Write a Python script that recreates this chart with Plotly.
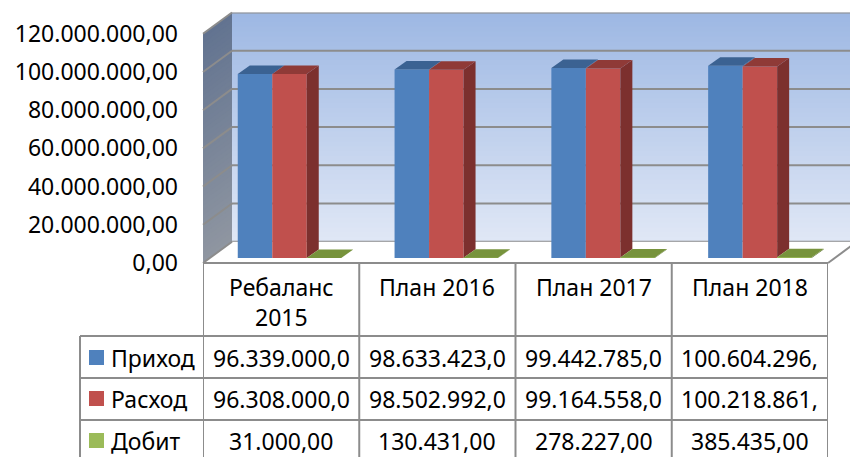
import plotly.graph_objects as go

# ---------------- data ----------------
categories = ["Ребаланс 2015", "План 2016", "План 2017", "План 2018"]
header_labels = ["Ребаланс<br>2015", "План 2016", "План 2017", "План 2018"]
series_names = ["Приход", "Расход", "Добит"]
prihod = [96339000.0, 98633423.0, 99442785.0, 100604296.0]
rashod = [96308000.0, 98502992.0, 99164558.0, 100218861.0]
dobit = [31000.0, 130431.0, 278227.0, 385435.0]
y_ticks = [0, 20e6, 40e6, 60e6, 80e6, 100e6, 120e6]
y_max = 120e6

series_values = [prihod, rashod, dobit]
front_colors = ["#4f81bd", "#c0504d", "#9bbb59"]
top_colors = ["#3b6292", "#8f3a37", "#77933c"]
side_colors = ["#3a5f8b", "#7c302e", "#5f7630"]

FONT = "Noto Sans"
FS = 23


def eu(v):
    s = f"{v:,.2f}"
    return s.replace(",", "X").replace(".", ",").replace("X", ".")


CELL_CHARS = 12  # cell width clips the text in the original

# ---------------- geometry (pixels) ----------------
W, H = 850, 457


def fx(x):
    return x / W


def fy(y):
    return 1 - y / H


FRONT_L, FRONT_R, FRONT_B, FRONT_T = 203, 828, 263, 33.8
BACK_L, BACK_B, BACK_T = 232, 241.7, 12.5
BAR_L, BAR_R, BAR_B, BAR_T = 211.1, 838.3, 258, 28.8
DX_PX, DY_PX = 12, 8.5

n_cat = len(categories)
bargap = 0.34
bw = (1 - bargap) / len(series_values)
dx = DX_PX / ((BAR_R - BAR_L) / n_cat)
dy = DY_PX / ((BAR_B - BAR_T) / y_max)


def y_front(v):
    return FRONT_B - v / y_max * (FRONT_B - FRONT_T)


def y_back(v):
    return BACK_B - v / y_max * (BACK_B - BACK_T)


def lerp_color(c0, c1, t):
    a = [int(c0[i:i + 2], 16) for i in (1, 3, 5)]
    b = [int(c1[i:i + 2], 16) for i in (1, 3, 5)]
    return "rgb(%d,%d,%d)" % tuple(round(a[k] + (b[k] - a[k]) * t) for k in range(3))


fig = go.Figure()

for j, vals in enumerate(series_values):
    fig.add_trace(go.Bar(
        x=list(range(n_cat)), y=vals, name=series_names[j],
        xaxis="x3", yaxis="y3",
        marker=dict(color=front_colors[j], line=dict(width=0)),
        showlegend=False,
        hovertext=[f"{series_names[j]}: {eu(v)}" for v in vals], hoverinfo="text",
    ))

shapes = []
GRID = "#8c8c8c"

# back wall gradient (bands overlap slightly to avoid seams)
NB = 48
ov = y_max / NB * 0.6
for k in range(NB):
    t = (k + 0.5) / NB
    shapes.append(dict(type="rect", xref="x domain", yref="y", x0=0, x1=1,
                       y0=y_max * k / NB, y1=min(y_max, y_max * (k + 1) / NB + ov),
                       fillcolor=lerp_color("#e0e8f6", "#9db7e3", t),
                       line=dict(width=0), layer="below"))
# side wall gradient
for k in range(NB):
    t = (k + 0.5) / NB
    v0, v1 = y_max * k / NB, min(y_max, y_max * (k + 1) / NB + ov)
    path = "M %f,%f L %f,%f L %f,%f L %f,%f Z" % (
        fx(FRONT_L), fy(y_front(v0)), fx(BACK_L), fy(y_back(v0)),
        fx(BACK_L), fy(y_back(v1)), fx(FRONT_L), fy(y_front(v1)))
    shapes.append(dict(type="path", xref="paper", yref="paper", path=path,
                       fillcolor=lerp_color("#8f96a1", "#627390", t),
                       line=dict(width=0), layer="below"))
# gridlines (back wall + side wall)
for v in y_ticks:
    shapes.append(dict(type="line", xref="x domain", yref="y", x0=0, x1=1, y0=v, y1=v,
                       line=dict(color=GRID, width=2), layer="below"))
    shapes.append(dict(type="line", xref="paper", yref="paper",
                       x0=fx(FRONT_L), y0=fy(y_front(v)), x1=fx(BACK_L), y1=fy(y_back(v)),
                       line=dict(color=GRID, width=2), layer="below"))
# floor edges
shapes.append(dict(type="line", xref="paper", yref="paper",
                   x0=fx(FRONT_L), x1=fx(FRONT_R), y0=fy(FRONT_B), y1=fy(FRONT_B),
                   line=dict(color=GRID, width=2)))
shapes.append(dict(type="line", xref="paper", yref="paper",
                   x0=fx(FRONT_R), y0=fy(FRONT_B), x1=fx(FRONT_R + 29), y1=fy(FRONT_B - 21.3),
                   line=dict(color=GRID, width=2)))

# 3D faces of bars
for i in range(n_cat):
    for j, vals in enumerate(series_values):
        v = vals[i]
        xl = i - (1 - bargap) / 2 + j * bw
        xr = xl + bw
        base = series_values[j + 1][i] if j + 1 < len(series_values) else 0
        if v > base:
            side = "M %f,%f L %f,%f L %f,%f L %f,%f Z" % (
                xr, base, xr + dx, base + dy, xr + dx, v + dy, xr, v)
            shapes.append(dict(type="path", xref="x3", yref="y3", path=side,
                               fillcolor=side_colors[j], line=dict(width=0)))
        top = "M %f,%f L %f,%f L %f,%f L %f,%f Z" % (
            xl, v, xr, v, xr + dx, v + dy, xl + dx, v + dy)
        shapes.append(dict(type="path", xref="x3", yref="y3", path=top,
                           fillcolor=top_colors[j], line=dict(width=0)))

# ---------------- data table ----------------
TBL_L = 80
ROW_LINES = [336, 378, 420]
ROW_CENTERS = [357.5, 398.5, 440.5]
for c in range(n_cat + 1):
    shapes.append(dict(type="line", xref="x2", yref="paper", x0=c - 0.5, x1=c - 0.5,
                       y0=fy(FRONT_B), y1=0, line=dict(color=GRID, width=2)))
shapes.append(dict(type="line", xref="paper", yref="paper", x0=fx(TBL_L), x1=fx(TBL_L),
                   y0=fy(ROW_LINES[0]), y1=0, line=dict(color=GRID, width=2)))
for yl in ROW_LINES:
    shapes.append(dict(type="line", xref="paper", yref="paper", x0=fx(TBL_L), x1=fx(FRONT_R),
                       y0=fy(yl), y1=fy(yl), line=dict(color=GRID, width=2)))

annotations = []
for i, lab in enumerate(header_labels):
    annotations.append(dict(xref="x2", yref="paper", x=i, y=fy(269), text=lab,
                            showarrow=False, xanchor="center", yanchor="top",
                            font=dict(family=FONT, size=FS, color="black")))
for r, name in enumerate(series_names):
    yc = ROW_CENTERS[r]
    shapes.append(dict(type="rect", xref="paper", yref="paper",
                       x0=fx(89), x1=fx(104), y0=fy(yc + 7.5), y1=fy(yc - 7.5),
                       fillcolor=front_colors[r], line=dict(width=0)))
    annotations.append(dict(xref="paper", yref="paper", x=fx(109), y=fy(yc), text=name,
                            showarrow=False, xanchor="left", yanchor="middle",
                            font=dict(family=FONT, size=FS, color="black")))
    for i, v in enumerate(series_values[r]):
        annotations.append(dict(xref="x2", yref="paper", x=i, y=fy(yc),
                                text=eu(v)[:CELL_CHARS],
                                showarrow=False, xanchor="center", yanchor="middle",
                                font=dict(family=FONT, size=FS, color="black")))

hidden = dict(visible=False, fixedrange=True, automargin=False)
fig.update_layout(
    width=W, height=H,
    margin=dict(l=0, r=0, t=0, b=0, pad=0, autoexpand=False),
    paper_bgcolor="white", plot_bgcolor="rgba(0,0,0,0)",
    barmode="group", bargap=bargap, bargroupgap=0,
    showlegend=False,
    font=dict(family=FONT, size=FS, color="black"),
    xaxis=dict(domain=[fx(BACK_L), 1], range=[0, 1], anchor="y", **hidden),
    yaxis=dict(domain=[fy(BACK_B), fy(BACK_T)], range=[0, y_max], anchor="x", **hidden),
    xaxis2=dict(domain=[fx(FRONT_L), fx(FRONT_R)], range=[-0.5, n_cat - 0.5], anchor="y2", **hidden),
    yaxis2=dict(domain=[fy(FRONT_B), fy(FRONT_T)], range=[0, y_max], anchor="x2",
                tickvals=y_ticks, ticktext=[eu(v) for v in y_ticks],
                showgrid=False, zeroline=False, showline=False, ticks="",
                ticklabelstandoff=24, fixedrange=True, automargin=False,
                tickfont=dict(family=FONT, size=FS, color="black")),
    xaxis3=dict(domain=[fx(BAR_L), fx(BAR_R)], range=[-0.5, n_cat - 0.5], anchor="y3", **hidden),
    yaxis3=dict(domain=[fy(BAR_B), fy(BAR_T)], range=[0, y_max], anchor="x3", **hidden),
    shapes=shapes,
    annotations=annotations,
)

fig.write_html("out.html", config=dict(displayModeBar=False),
               post_script="document.body.style.margin='0';document.body.style.overflow='hidden';")
